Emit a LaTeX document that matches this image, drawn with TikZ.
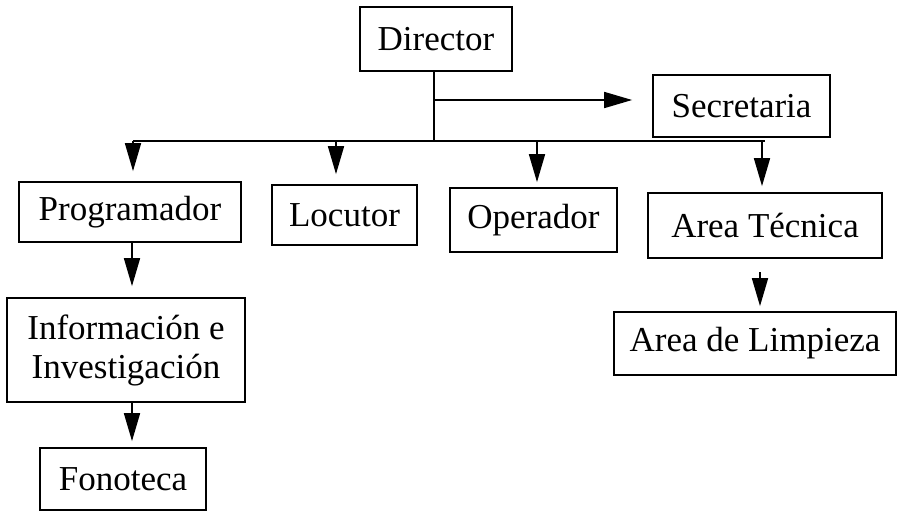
\documentclass[tikz,border=0pt]{standalone}
\usepackage{fontspec}
\setmainfont{Liberation Serif}
\usetikzlibrary{arrows.meta}
\begin{document}
\begin{tikzpicture}[x=1pt,y=-1pt,
  box/.style={draw,line width=1.7pt,inner sep=0pt,align=center,
    font=\fontsize{35}{39}\selectfont,text=black},
  arr/.style={line width=1.7pt,-{Triangle[length=28pt,width=16pt]}},
  ln/.style={line width=1.7pt}]
\useasboundingbox[fill=white] (0,0) rectangle (897,512);
\node[box,minimum width=152pt,minimum height=64pt] (dir) at (436,39) {Director};
\node[box,minimum width=177pt,minimum height=62pt] (sec) at (741.5,106) {Secretaria};
\node[box,minimum width=222pt,minimum height=60pt] (prog) at (130,212) {Programador};
\node[box,minimum width=145pt,minimum height=60pt] (loc) at (344.5,215) {Locutor};
\node[box,minimum width=167pt,minimum height=64pt] (op) at (533.5,220) {Operador};
\node[box,minimum width=234pt,minimum height=65pt] (tec) at (765,225.5) {Area Técnica};
\node[box,minimum width=238pt,minimum height=104pt] (info) at (126,350) {Información e\\Investigación};
\node[box,minimum width=166pt,minimum height=62pt] (fono) at (123,479) {Fonoteca};
\node[box,minimum width=282pt,minimum height=63pt] (limp) at (755,343.5) {Area de Limpieza};
\coordinate (dtop) at (434,71);
\coordinate (djoin) at (434,141);
\coordinate (sjoin) at (434,100);
\coordinate (bl) at (133,141);
\coordinate (br) at (765,141);
\coordinate (b1) at (133,141);
\coordinate (b2) at (336,141);
\coordinate (b3) at (537,141);
\coordinate (b4) at (762,141);
\coordinate (p1) at (132,242);
\coordinate (p2) at (132,402);
\coordinate (p3) at (760,272);
\draw[ln] (dtop) -- (djoin);
\draw[ln] (bl) -- (br);
\draw[arr,shorten >=20pt] (sjoin) -- (sjoin -| sec.west);
\draw[arr,shorten >=10pt] (b1) -- (b1 |- prog.north);
\draw[arr,shorten >=10pt] (b2) -- (b2 |- loc.north);
\draw[arr,shorten >=5pt] (b3) -- (b3 |- op.north);
\draw[arr,shorten >=6pt] (b4) -- (b4 |- tec.north);
\draw[arr,shorten >=11pt] (p1) -- (p1 |- info.north);
\draw[arr,shorten >=6pt] (p2) -- (p2 |- fono.north);
\draw[arr,shorten >=5pt] (p3) -- (p3 |- limp.north);
\end{tikzpicture}
\end{document}
